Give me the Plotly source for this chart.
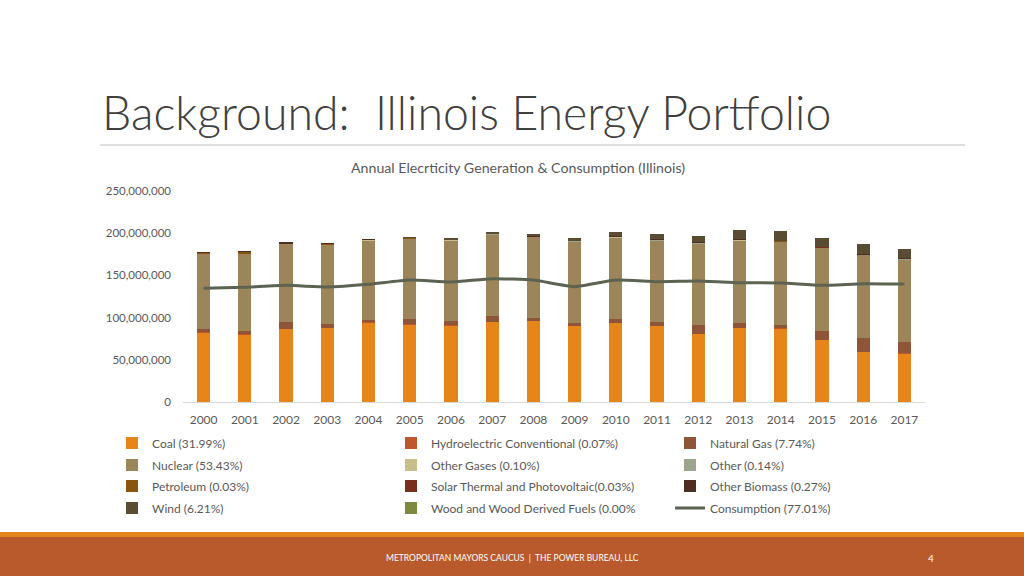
import plotly.graph_objects as go

years = [str(y) for y in range(2000, 2018)]

# values in MWh
coal = [82.6e6, 80.2e6, 86.5e6, 88.0e6, 94.4e6, 92.4e6, 91.2e6, 95.1e6, 96.3e6,
        90.4e6, 93.6e6, 90.4e6, 80.6e6, 88.0e6, 87.3e6, 73.5e6, 59.6e6, 57.7e6]
hydro = [0.12e6, 0.12e6, 0.12e6, 0.12e6, 0.12e6, 0.12e6, 0.12e6, 0.12e6, 0.12e6,
         0.12e6, 0.12e6, 0.12e6, 0.12e6, 0.12e6, 0.12e6, 0.12e6, 0.12e6, 0.12e6]
natural_gas = [3.2e6, 3.4e6, 8.5e6, 3.9e6, 2.7e6, 6.2e6, 5.0e6, 7.1e6, 2.7e6,
               3.5e6, 5.0e6, 4.6e6, 10.9e6, 5.9e6, 4.2e6, 10.5e6, 16.5e6, 13.6e6]
nuclear = [89.8e6, 91.9e6, 92.3e6, 94.6e6, 94.6e6, 95.0e6, 95.5e6, 96.5e6, 96.9e6,
           96.5e6, 96.6e6, 96.6e6, 96.5e6, 97.8e6, 98.6e6, 98.9e6, 98.4e6, 97.8e6]
other_gases = [0.2e6, 0.2e6, 0.2e6, 0.2e6, 0.2e6, 0.2e6, 0.2e6, 0.2e6, 0.2e6,
               0.2e6, 0.2e6, 0.2e6, 0.2e6, 0.2e6, 0.2e6, 0.2e6, 0.2e6, 0.2e6]
other = [0.3e6, 0.3e6, 0.3e6, 0.3e6, 0.3e6, 0.3e6, 0.3e6, 0.3e6, 0.3e6,
         0.3e6, 0.3e6, 0.3e6, 0.3e6, 0.3e6, 0.3e6, 0.3e6, 0.3e6, 0.3e6]
petroleum = [0.9e6, 1.6e6, 0.3e6, 0.6e6, 0.2e6, 0.2e6, 0.1e6, 0.1e6, 0.1e6,
             0.1e6, 0.1e6, 0.1e6, 0.1e6, 0.1e6, 0.1e6, 0.1e6, 0.1e6, 0.1e6]
solar = [0.0, 0.0, 0.0, 0.0, 0.0, 0.0, 0.0, 0.0, 0.0,
         0.0, 0.01e6, 0.01e6, 0.02e6, 0.02e6, 0.02e6, 0.05e6, 0.06e6, 0.08e6]
other_biomass = [0.5e6, 0.5e6, 0.5e6, 0.5e6, 0.5e6, 0.5e6, 0.5e6, 0.5e6, 0.5e6,
                 0.5e6, 0.5e6, 0.5e6, 0.5e6, 0.5e6, 0.5e6, 0.5e6, 0.5e6, 0.5e6]
wind = [0.0, 0.0, 0.0, 0.0, 0.0, 0.1e6, 0.3e6, 0.7e6, 2.3e6,
        2.2e6, 4.8e6, 6.4e6, 8.0e6, 10.4e6, 11.2e6, 9.6e6, 11.2e6, 11.3e6]
wood = [0.0] * 18
consumption = [134.7e6, 135.9e6, 138.2e6, 136.3e6, 139.4e6, 144.5e6, 142.2e6, 146.1e6, 144.5e6,
               136.7e6, 144.5e6, 142.5e6, 143.4e6, 141.4e6, 141.0e6, 138.2e6, 140.2e6, 139.8e6]

series = [
    ("Coal (31.99%)", coal, "#E5851A"),
    ("Hydroelectric Conventional (0.07%)", hydro, "#C0562D"),
    ("Natural Gas (7.74%)", natural_gas, "#8E5538"),
    ("Nuclear (53.43%)", nuclear, "#9C8659"),
    ("Other Gases (0.10%)", other_gases, "#C8BF8A"),
    ("Other (0.14%)", other, "#9EA58E"),
    ("Petroleum (0.03%)", petroleum, "#8A560E"),
    ("Solar Thermal and Photovoltaic(0.03%)", solar, "#7A2E1C"),
    ("Other Biomass (0.27%)", other_biomass, "#4F2E22"),
    ("Wind (6.21%)", wind, "#5A4B33"),
    ("Wood and Wood Derived Fuels (0.00%", wood, "#7F8A3F"),
]

legend_ids = ["legend", "legend2", "legend3", "legend4"]

fig = go.Figure()
for i, (name, vals, col) in enumerate(series):
    fig.add_trace(go.Bar(x=years, y=vals, name=name, legend=legend_ids[i // 3],
                         marker=dict(color=col, line=dict(width=0))))

fig.add_trace(go.Scatter(x=years, y=consumption, name="Consumption (77.01%)", mode="lines",
                         legend="legend4",
                         line=dict(color="#5C6352", width=3, shape="spline", smoothing=0.5)))

grey = "#595959"
FONT = "Lato, Carlito, Open Sans, sans-serif"
row_y = [443, 465, 486, 508]


def leg(yp):
    return dict(orientation="h", x=112/1024, xanchor="left", y=(576-yp)/576, yanchor="middle",
                entrywidth=234, entrywidthmode="pixels", traceorder="normal",
                font=dict(size=12, color=grey, family=FONT), itemwidth=30, tracegroupgap=0,
                bgcolor="rgba(0,0,0,0)")


fig.update_layout(
    width=1024, height=576,
    margin=dict(l=0, r=0, t=0, b=0, autoexpand=False),
    paper_bgcolor="white", plot_bgcolor="white",
    barmode="stack", bargap=0.68,
    font=dict(family=FONT, color=grey, size=12),
    xaxis=dict(domain=[183/1024, 925/1024], showgrid=False, showline=True,
               linecolor="#D9D9D9", linewidth=1, ticks="", tickfont=dict(size=12, color=grey),
               ticklabelstandoff=7),
    yaxis=dict(domain=[(576-402)/576, (576-191)/576], range=[0, 250e6],
               tickvals=[0, 50e6, 100e6, 150e6, 200e6, 250e6],
               ticktext=["0", "50,000,000", "100,000,000", "150,000,000", "200,000,000", "250,000,000"],
               showgrid=False, zeroline=False, showline=False, ticks="",
               tickfont=dict(size=11.5, color=grey), ticklabelstandoff=11),
    legend=leg(row_y[0]), legend2=leg(row_y[1]), legend3=leg(row_y[2]), legend4=leg(row_y[3]),
    showlegend=True,
)

# titles
fig.add_annotation(text="Background:  Illinois Energy Portfolio", xref="paper", yref="paper",
                   x=100/1024, y=(576-112)/576, xanchor="left", yanchor="middle", showarrow=False,
                   font=dict(size=46.4, color="#404040", family=FONT, weight=300))
fig.add_shape(type="line", xref="paper", yref="paper", x0=100/1024, x1=965/1024,
              y0=(576-145)/576, y1=(576-145)/576, line=dict(color="#BFBFBF", width=1))
fig.add_annotation(text="Annual Elecrticity Generation & Consumption (Illinois)", xref="paper", yref="paper",
                   x=518/1024, y=(576-167)/576, xanchor="center", yanchor="middle", showarrow=False,
                   font=dict(size=14.2, color=grey, family=FONT))

# footer
fig.add_shape(type="rect", xref="paper", yref="paper", x0=0, x1=1, y0=0, y1=(576-537)/576,
              fillcolor="#B85A2B", line=dict(width=0), layer="below")
fig.add_shape(type="rect", xref="paper", yref="paper", x0=0, x1=1, y0=(576-537)/576, y1=(576-532)/576,
              fillcolor="#E2861C", line=dict(width=0), layer="below")
fig.add_annotation(text="METROPOLITAN MAYORS CAUCUS  |  THE POWER BUREAU, LLC", xref="paper", yref="paper",
                   x=512/1024, y=(576-558)/576, xanchor="center", yanchor="middle", showarrow=False,
                   font=dict(size=8.5, color="white", family="Liberation Sans Narrow, Lato, sans-serif"))
fig.add_annotation(text="4", xref="paper", yref="paper",
                   x=931/1024, y=(576-558)/576, xanchor="center", yanchor="middle", showarrow=False,
                   font=dict(size=10, color="white", family=FONT))

fig.write_html("out.html", config={"displayModeBar": False},
               post_script="document.body.style.margin='0';document.body.style.padding='0';")
